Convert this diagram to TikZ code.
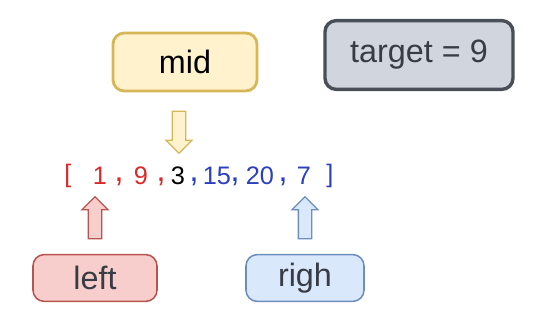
\documentclass[tikz,border=0pt]{standalone}
\usepackage{fontspec}
\setmainfont{Liberation Sans}
\usepackage{xcolor}
\definecolor{midfill}{HTML}{FFF2CC}
\definecolor{middraw}{HTML}{D6B656}
\definecolor{leftfill}{HTML}{F8CECC}
\definecolor{leftdraw}{HTML}{B85450}
\definecolor{rightfill}{HTML}{DAE8FC}
\definecolor{rightdraw}{HTML}{6C8EBF}
\definecolor{tgtfill}{HTML}{D1D5DD}
\definecolor{tgtdraw}{HTML}{4A4E56}
\definecolor{labelgray}{HTML}{383C44}
\definecolor{arrred}{HTML}{DC2828}
\definecolor{arrblue}{HTML}{2B3FC0}
\usetikzlibrary{shapes.arrows}

\tikzset{
  labelbox/.style={rounded corners=8pt, inner sep=0pt, font=\fontsize{23}{26}\selectfont},
  blockarrow/.style={single arrow, inner sep=0.15cm, minimum height=1.05cm,
    single arrow head extend=0.16cm, single arrow tip angle=90, line width=0.9pt},
  digit/.style={font=\fontsize{18}{20}\selectfont, inner sep=0pt},
  sep/.style={font=\fontsize{24}{26}\selectfont, inner sep=0pt}
}

\begin{document}
\begin{tikzpicture}[x=0.025cm, y=-0.025cm]
  \useasboundingbox (0,0) rectangle (554,328);

  % --- Boxes ---
  \node[labelbox, fill=midfill, draw=middraw, line width=2pt,
        minimum width=3.6cm, minimum height=1.45cm] (midbox) at (185,62) {mid};
  \node[labelbox, fill=tgtfill, draw=tgtdraw, line width=2.4pt, text=labelgray,
        minimum width=4.7cm, minimum height=1.72cm] (targetbox) at (419,55) {target = 9};
  \node[labelbox, fill=leftfill, draw=leftdraw, line width=1.1pt, text=labelgray,
        minimum width=3.1cm, minimum height=1.17cm] (leftbox) at (95,278) {left};
  \node[labelbox, fill=rightfill, draw=rightdraw, line width=1.1pt, text=labelgray,
        minimum width=2.95cm, minimum height=1.17cm] (rightbox) at (305,278) {righ};

  % --- Array ---
  \node[digit, arrred] (a0) at (68,176) {[};
  \node[digit, arrred] (a1) at (100,176) {1};
  \node[sep, arrred] (a2) at (119,182) {,};
  \node[digit, arrred] (a3) at (141,176) {9};
  \node[sep, arrred] (a4) at (161,182) {,};
  \node[digit, black] (a5) at (178,176) {3};
  \node[sep, arrblue] (a6) at (194,182) {,};
  \node[digit, arrblue] (a7) at (217,176) {15};
  \node[sep, arrblue] (a8) at (235,182) {,};
  \node[digit, arrblue] (a9) at (260,176) {20};
  \node[sep, arrblue] (a10) at (283,182) {,};
  \node[digit, arrblue] (a11) at (304,176) {7};
  \node[digit, arrblue] (a12) at (330,176) {]};

  % --- Block arrows ---
  \node[blockarrow, shape border rotate=270, fill=midfill, draw=middraw] (midarrow) at (179,129) {};
  \node[blockarrow, shape border rotate=90, fill=leftfill, draw=leftdraw] (leftarrow) at (95,221) {};
  \node[blockarrow, shape border rotate=90, fill=rightfill, draw=rightdraw] (rightarrow) at (305,221) {};
\end{tikzpicture}
\end{document}
